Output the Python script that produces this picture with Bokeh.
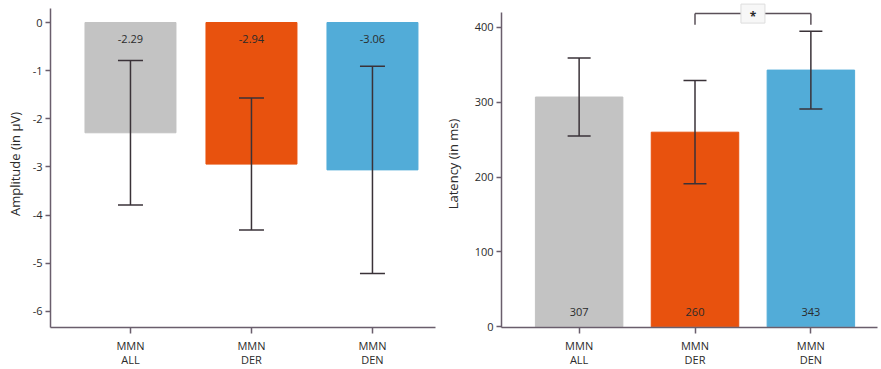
from bokeh.plotting import figure
from bokeh.layouts import row
from bokeh.models import ColumnDataSource, FixedTicker, Whisker, TeeHead, Range1d
from bokeh.core.properties import value
from bokeh.embed import file_html
from bokeh.resources import INLINE

# ---- data ----
categories = ["MMN\nALL", "MMN\nDER", "MMN\nDEN"]
colors = ["#c3c3c3", "#e8520e", "#52acd8"]
amp_mean = [-2.29, -2.94, -3.06]
amp_err = [1.50, 1.37, 2.15]
amp_labels = ["-2.29", "-2.94", "-3.06"]
lat_mean = [307, 260, 343]
lat_err = [52, 69, 52]
lat_labels = ["307", "260", "343"]
amp_ticks = [0, -1, -2, -3, -4, -5, -6]
lat_ticks = [0, 100, 200, 300, 400]
sig_pair = (2, 3)
sig_text = "*"

FONT = "Open Sans"
TXT = "#2b2b2b"
AX = "#6a5e6c"
ERR = "#3a3238"

xs = [1, 2, 3]


def style(p, ticks, label):
    p.xaxis.ticker = FixedTicker(ticks=xs)
    p.xaxis.major_label_overrides = {x: c for x, c in zip(xs, categories)}
    p.yaxis.ticker = FixedTicker(ticks=ticks)
    p.yaxis.major_label_overrides = {t: str(t) for t in ticks}
    p.yaxis.axis_label = label
    for ax in (p.xaxis[0], p.yaxis[0]):
        ax.axis_line_color = AX
        ax.axis_line_width = 1.5
        ax.major_tick_line_color = AX
        ax.major_tick_line_width = 1.5
        ax.minor_tick_line_color = None
        ax.major_tick_in = 0
        ax.major_label_text_font = FONT
        ax.major_label_text_font_size = "11px"
        ax.major_label_text_color = TXT
        ax.axis_label_text_font = FONT
        ax.axis_label_text_font_size = "13px"
        ax.axis_label_text_font_style = "normal"
        ax.axis_label_text_color = TXT
    p.xaxis.major_tick_out = 6
    p.yaxis.major_tick_out = 5
    p.xaxis.major_label_standoff = 4
    p.xaxis.major_label_text_line_height = 0.95
    p.yaxis.major_label_standoff = 3
    p.grid.grid_line_color = None
    p.outline_line_color = None
    p.background_fill_color = "white"
    p.border_fill_color = "white"


def whisker(src, size):
    w = Whisker(base="x", upper="upper", lower="lower", source=src,
                line_color=ERR, line_width=1.5,
                upper_head=TeeHead(size=size, line_color=ERR, line_width=1.5),
                lower_head=TeeHead(size=size, line_color=ERR, line_width=1.5))
    w.level = "overlay"
    return w


# ---- left: amplitude ----
src_a = ColumnDataSource(dict(x=xs, top=amp_mean, color=colors,
                              upper=[m + e for m, e in zip(amp_mean, amp_err)],
                              lower=[m - e for m, e in zip(amp_mean, amp_err)],
                              lab=amp_labels, zero=[0, 0, 0]))
p1 = figure(width=440, height=369, output_backend="svg", toolbar_location=None,
            x_range=Range1d(0.339, 3.521), y_range=Range1d(-6.333, 0.457),
            min_border_left=50, min_border_right=5, min_border_top=0, min_border_bottom=42)
p1.vbar(x="x", top="top", bottom=0, width=0.752, color="color", source=src_a)
p1.add_layout(whisker(src_a, 25))
p1.text(x="x", y="zero", text="lab", source=src_a, y_offset=16,
        text_align="center", text_baseline="middle", text_font=value(FONT),
        text_font_size="11px", text_color=TXT)
style(p1, amp_ticks, "Amplitude (in µV)")
p1.yaxis.bounds = (-6.333, 0.29)
p1.yaxis.axis_label_standoff = 6

# ---- right: latency ----
src_l = ColumnDataSource(dict(x=xs, top=lat_mean, color=colors,
                              upper=[m + e for m, e in zip(lat_mean, lat_err)],
                              lower=[m - e for m, e in zip(lat_mean, lat_err)],
                              lab=lat_labels, zero=[0, 0, 0]))
p2 = figure(width=441, height=369, output_backend="svg", toolbar_location=None,
            x_range=Range1d(0.330, 3.575), y_range=Range1d(-1, 436),
            min_border_left=59, min_border_right=4, min_border_top=0, min_border_bottom=42)
p2.vbar(x="x", top="top", bottom=0, width=0.755, color="color", source=src_l)
p2.add_layout(whisker(src_l, 23))
p2.text(x="x", y="zero", text="lab", source=src_l, y_offset=-15,
        text_align="center", text_baseline="middle", text_font=value(FONT),
        text_font_size="11px", text_color=TXT)
# significance bracket
a, b = sig_pair
yb = 418.5
p2.segment(x0=[a, a, b], y0=[yb, yb - 15, yb - 15], x1=[b, a, b], y1=[yb, yb, yb],
           line_color="#5a5058", line_width=1.5)
p2.rect(x=[(a + b) / 2], y=[yb], width=24, height=19, width_units="screen",
        height_units="screen", fill_color="#f7f7f7", line_color="#dddddd", line_width=1)
p2.text(x=[(a + b) / 2], y=[yb], text=[sig_text], text_align="center",
        text_baseline="middle", y_offset=3, text_font=value(FONT), text_font_size="12px",
        text_color=TXT, text_font_style="bold")
style(p2, lat_ticks, "Latency (in ms)")
p2.yaxis.bounds = (-1, 420)
p2.yaxis.axis_label_standoff = 10

layout = row(p1, p2)
open("out.html", "w").write(file_html(layout, INLINE))
